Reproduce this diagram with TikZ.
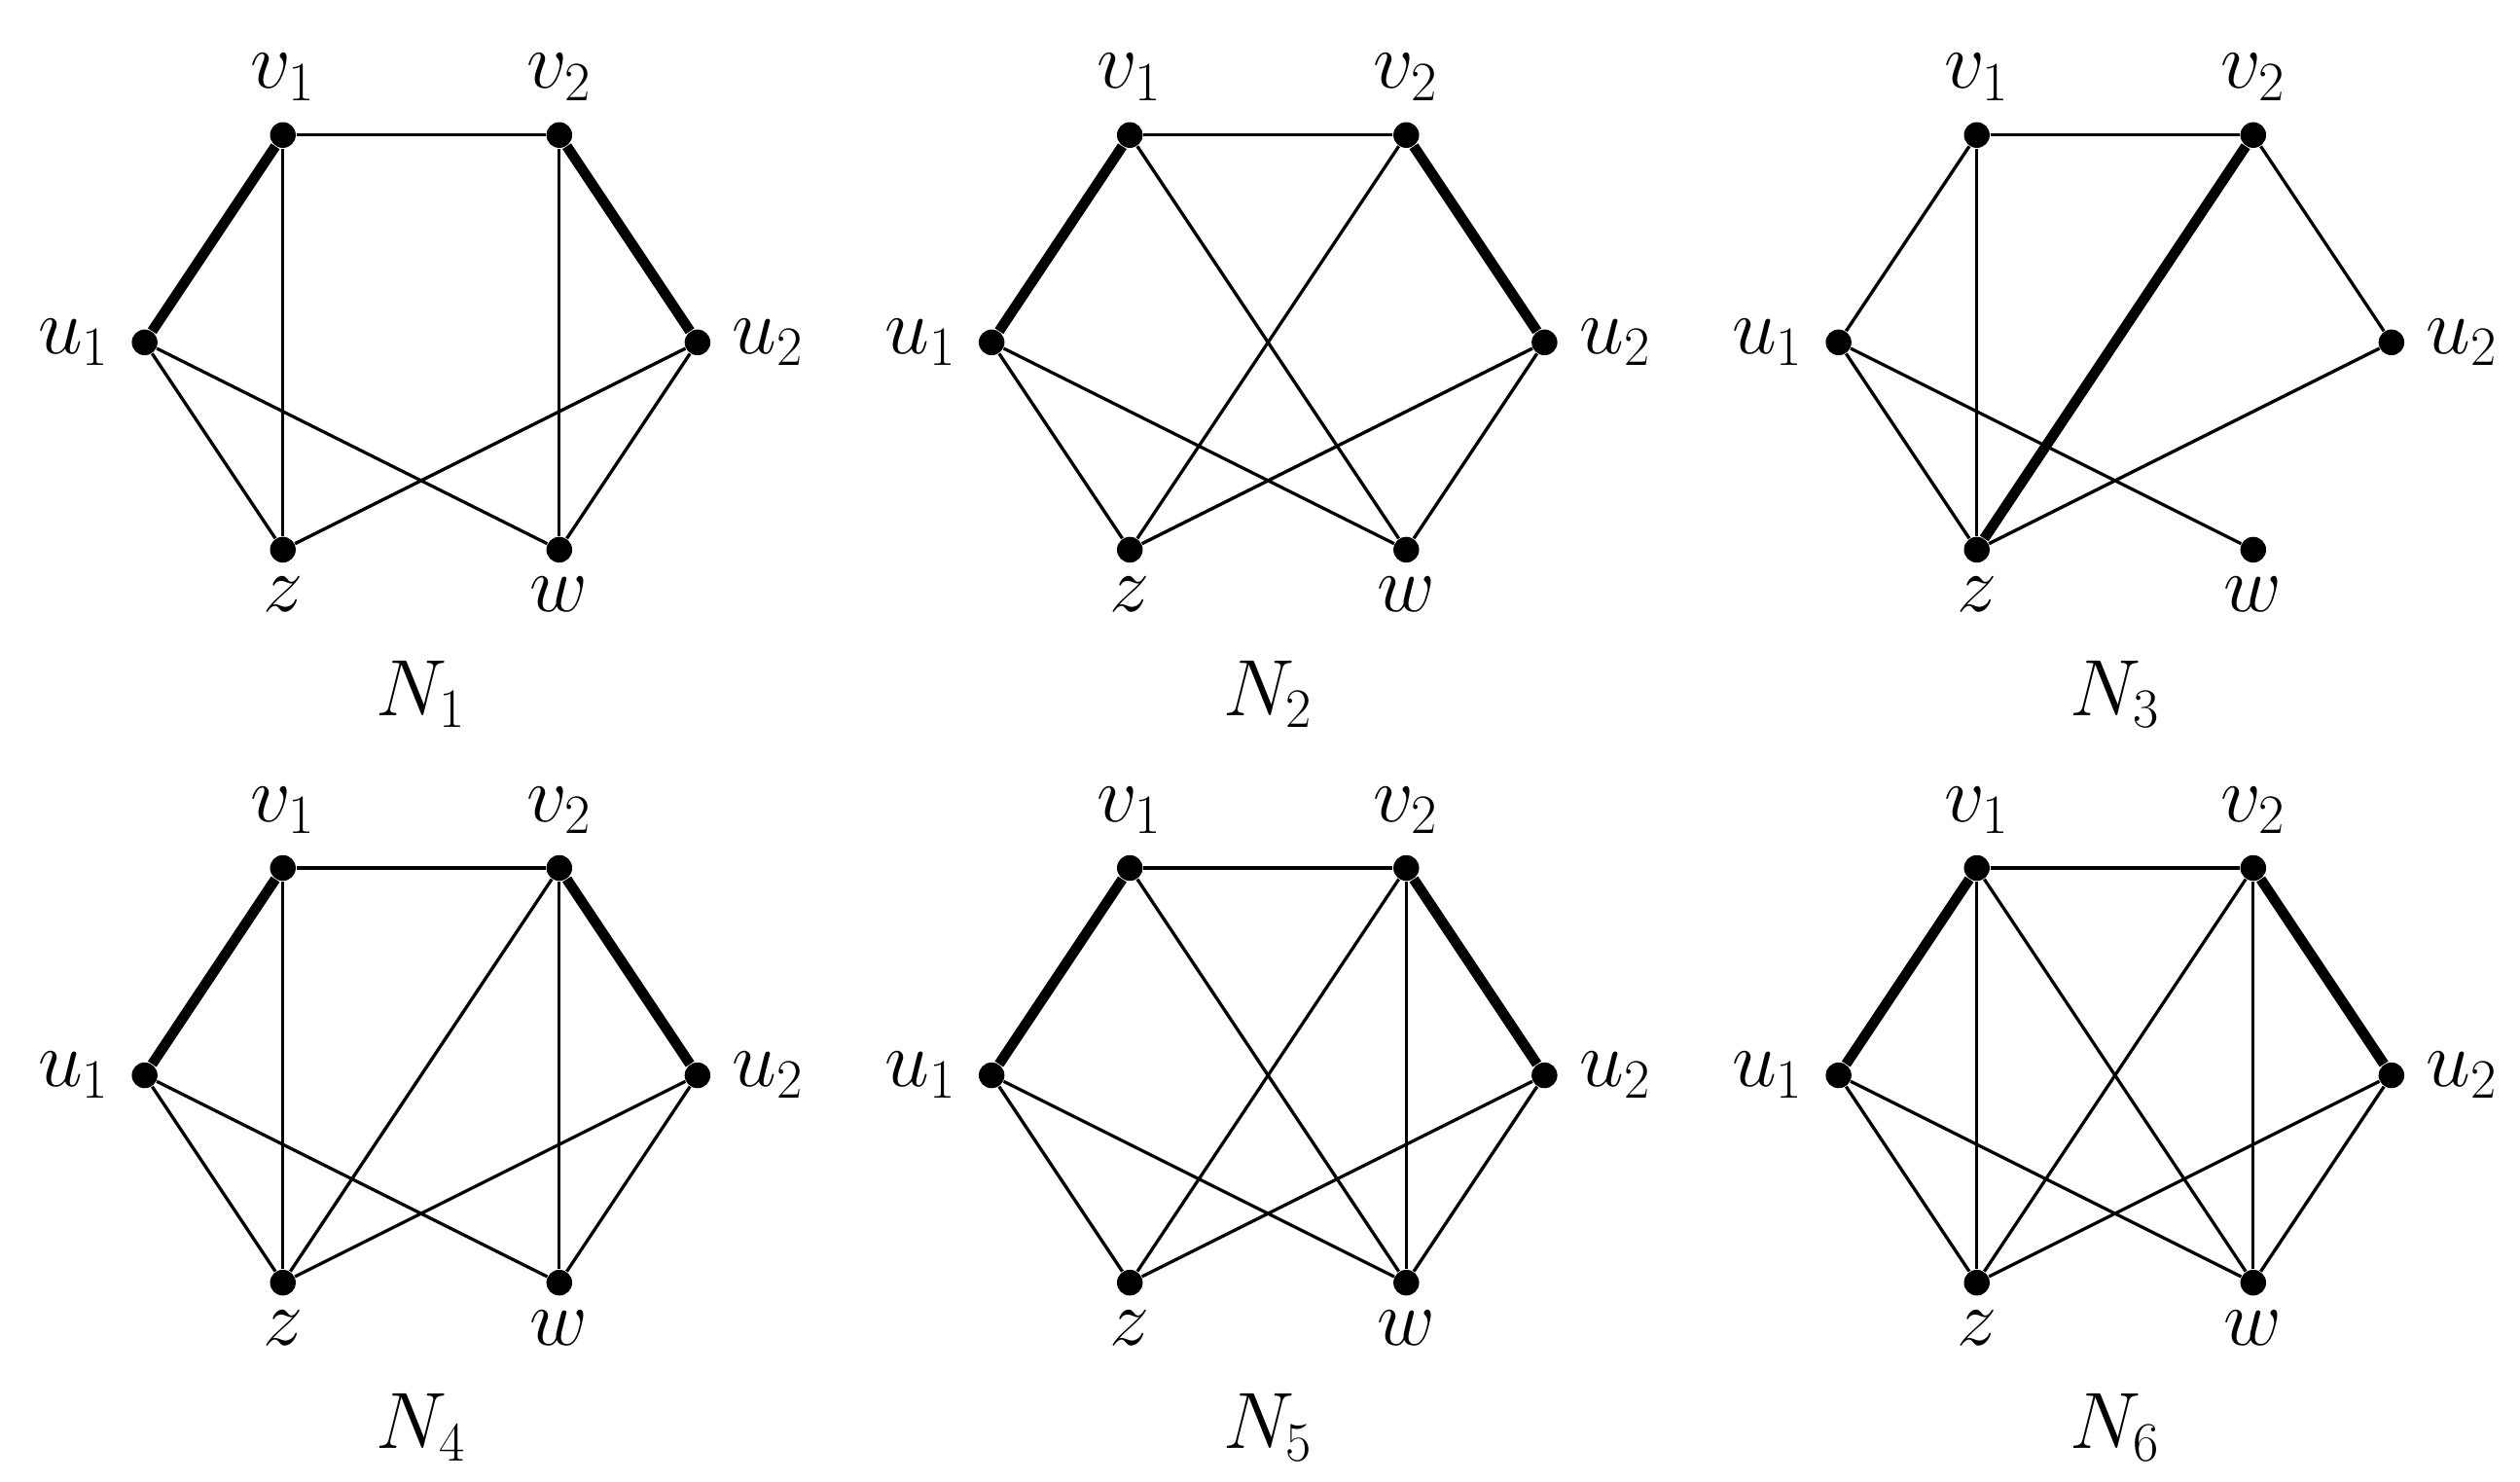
\documentclass[tikz,border=0pt]{standalone}
\begin{document}
\begin{tikzpicture}[x=0.5pt,y=-0.5pt,
  dot/.style={circle,fill=black,inner sep=0pt,minimum size=8pt},
  lab/.style={font=\fontsize{25}{30}\selectfont},
  thin/.style={line width=1pt},
  thick2/.style={line width=3.2pt}]
\useasboundingbox (0,0) rectangle (1568,922);
\newcommand{\gr}[6]{%
\begin{scope}[shift={(#1,#2)}]
\node[dot] (#3v1) at (176,84) {};
\node[dot] (#3v2) at (348,84) {};
\node[dot] (#3u1) at (90,213) {};
\node[dot] (#3u2) at (434,213) {};
\node[dot] (#3z) at (176,342) {};
\node[dot] (#3w) at (348,342) {};
\node[lab] (#3lv1) at (176,48) {$v_1$};
\node[lab] (#3lv2) at (348,48) {$v_2$};
\node[lab] (#3lu1) at (46,213) {$u_1$};
\node[lab] (#3lu2) at (478,213) {$u_2$};
\node[lab] (#3lz) at (176,370) {$z$};
\node[lab] (#3lw) at (348,370) {$w$};
\node[lab] (#3N) at (262,432) {$N_{#4}$};
\foreach \a/\b in {#5} \draw[thin] (#3\a) -- (#3\b);
\foreach \a/\b in {#6} \draw[thick2] (#3\a) -- (#3\b);
\end{scope}}
\gr{0}{0}{a}{1}{v1/v2,v1/z,v2/w,u1/z,u1/w,u2/z,u2/w}{u1/v1,v2/u2}
\gr{527}{0}{b}{2}{v1/v2,v1/w,v2/z,u1/z,u1/w,u2/z,u2/w}{u1/v1,v2/u2}
\gr{1054}{0}{c}{3}{v1/v2,v1/u1,v1/z,v2/u2,u1/z,u1/w,u2/z}{v2/z}
\gr{0}{456}{d}{4}{v1/v2,v1/z,v2/z,v2/w,u1/z,u1/w,u2/z,u2/w}{u1/v1,v2/u2}
\gr{527}{456}{e}{5}{v1/v2,v1/w,v2/z,v2/w,u1/z,u1/w,u2/z,u2/w}{u1/v1,v2/u2}
\gr{1054}{456}{f}{6}{v1/v2,v1/z,v1/w,v2/z,v2/w,u1/z,u1/w,u2/z,u2/w}{u1/v1,v2/u2}
\end{tikzpicture}
\end{document}
